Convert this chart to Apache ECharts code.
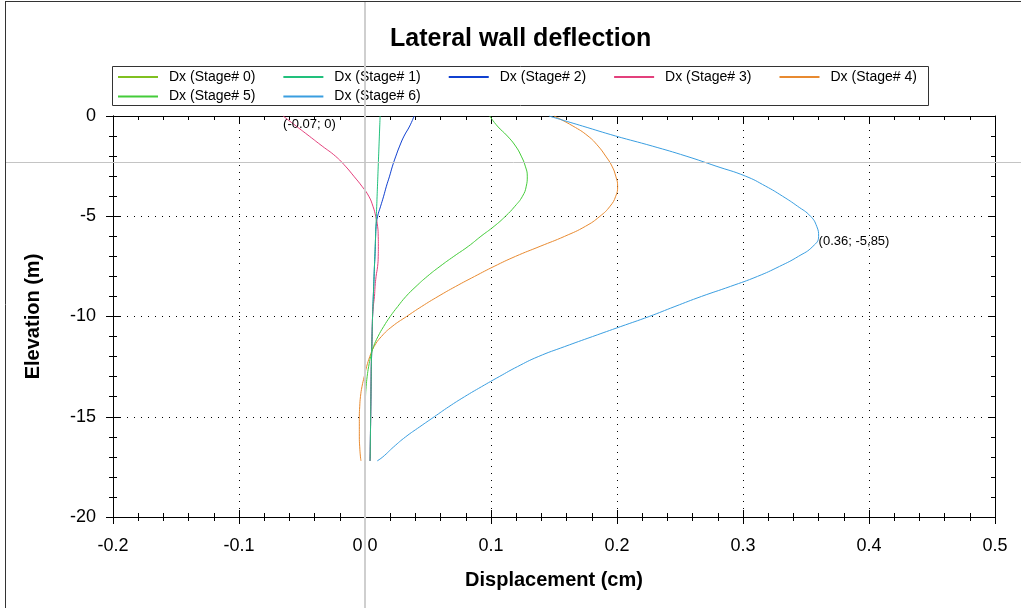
<!DOCTYPE html>
<html lang="en">
<head>
<meta charset="UTF-8">
<title>Lateral wall deflection</title>
<script src="https://cdn.jsdelivr.net/npm/echarts@6/dist/echarts.min.js"></script>
<style>
    html, body { margin: 0; padding: 0; background: #fff; }
    #chart { width: 1021px; height: 608px; }
</style>
</head>
<body>
<div id="chart"></div>
<script>
    // elevation (m) shared by every stage, 0.5 m apart
    var elevation = [0, -0.5, -1, -1.5, -2, -2.5, -3, -3.5, -4, -4.5, -5, -5.5, -6, -6.5, -7, -7.5, -8, -8.5,
        -9, -9.5, -10, -10.5, -11, -11.5, -12, -12.5, -13, -13.5, -14, -14.5, -15, -15.5, -16, -16.5, -17, -17.2];

    // horizontal displacement Dx (cm) per stage
    var dxStage0 = [0, 0, 0, 0, 0, 0, 0, 0, 0, 0, 0, 0, 0, 0, 0, 0, 0, 0,
        0, 0, 0, 0, 0, 0, 0, 0, 0, 0, 0, 0, 0, 0, 0, 0, 0, 0];
    var dxStage1 = [0.012, 0.0117, 0.0114, 0.0111, 0.0108, 0.0105, 0.0102, 0.0099, 0.0096, 0.0093, 0.009, 0.0087, 0.0084, 0.0081, 0.0078, 0.0075, 0.0072, 0.0069,
        0.0066, 0.0063, 0.006, 0.0058, 0.0056, 0.0054, 0.0052, 0.005, 0.0049, 0.0048, 0.0047, 0.0046, 0.0045, 0.0044, 0.0043, 0.0042, 0.0041, 0.004];
    var dxStage2 = [0.039, 0.0355, 0.031, 0.0275, 0.0245, 0.0218, 0.0195, 0.017, 0.0148, 0.0124, 0.010, 0.0088, 0.0084, 0.0082, 0.0079, 0.0075, 0.0072, 0.0069,
        0.0066, 0.0063, 0.006, 0.0058, 0.0056, 0.0054, 0.0052, 0.005, 0.0049, 0.0048, 0.0047, 0.0046, 0.0045, 0.0044, 0.0043, 0.0042, 0.0041, 0.004];
    var dxStage3 = [-0.065, -0.0547, -0.0443, -0.034, -0.0235, -0.0156, -0.0089, -0.0025, 0.003, 0.0063, 0.0085, 0.010, 0.0105, 0.0106, 0.0105, 0.010, 0.0088, 0.008,
        0.0075, 0.0066, 0.006, 0.0058, 0.0056, 0.0054, 0.0052, 0.005, 0.0049, 0.0048, 0.0047, 0.0046, 0.0045, 0.0044, 0.0043, 0.0042, 0.0041, 0.004];
    var dxStage4 = [0.150, 0.165, 0.177, 0.185, 0.191, 0.196, 0.199, 0.2005, 0.199, 0.1945, 0.1865, 0.175, 0.1585, 0.139, 0.1195, 0.1025, 0.087, 0.072,
        0.058, 0.045, 0.033, 0.0215, 0.013, 0.0072, 0.0038, 0.0013, -0.0006, -0.0024, -0.0036, -0.0042, -0.0045, -0.0045, -0.0045, -0.0042, -0.0036, -0.0032];
    var dxStage5 = [0.099, 0.105, 0.113, 0.1195, 0.124, 0.1272, 0.1288, 0.128, 0.125, 0.119, 0.1115, 0.1025, 0.092, 0.082, 0.0705, 0.0595, 0.0494, 0.0405,
        0.0325, 0.026, 0.020, 0.0148, 0.0103, 0.0068, 0.0045, 0.0029, 0.0017, 0.0009, 0.0004, 0.0002, 0, 0, 0, 0, 0, 0];
    var dxStage6 = [0.146, 0.1725, 0.199, 0.228, 0.2548, 0.2786, 0.302, 0.318, 0.3314, 0.3433, 0.3536, 0.3585, 0.360, 0.3555, 0.344, 0.329, 0.3115, 0.290,
        0.267, 0.246, 0.2255, 0.203, 0.1806, 0.1585, 0.1375, 0.121, 0.1065, 0.0925, 0.079, 0.0665, 0.055, 0.0435, 0.0323, 0.0228, 0.0142, 0.0097];

    var stageNames = ['Dx (Stage# 0)', 'Dx (Stage# 1)', 'Dx (Stage# 2)', 'Dx (Stage# 3)', 'Dx (Stage# 4)', 'Dx (Stage# 5)', 'Dx (Stage# 6)'];
    var stageColors = ['#80c020', '#22c07c', '#1040d0', '#e3407c', '#e88a30', '#44cc3a', '#3a9ee0'];

    // axis ranges
    var xMin = -0.2, xMax = 0.5, xStep = 0.1;
    var yMin = -20, yMax = 0, yStep = 5;

    // point labels (min of stage 3, max of stage 6)
    var minLabel = { name: '(-0.07; 0)', coord: [-0.065, 0] };
    var maxLabel = { name: '(0.36; -5,85)', coord: [0.36, -5.85] };

    // cursor crosshair position
    var cursorX = 0, cursorY = -2.3;

    var font = "'Liberation Sans', Arial, sans-serif";
    var chartDom = document.getElementById('chart');
    var myChart = echarts.init(chartDom);

    var stageData = [dxStage0, dxStage1, dxStage2, dxStage3, dxStage4, dxStage5, dxStage6];
    var series = stageData.map(function (dx, i) {
        return {
            name: stageNames[i],
            type: 'line',
            data: dx.map(function (v, k) { return [v, elevation[k]]; }),
            symbol: 'none',
            smooth: 0.5,
            z: i === 1 ? 3 : 2,
            lineStyle: { width: 1, color: stageColors[i] },
            itemStyle: { color: stageColors[i] }
        };
    });

    function pointLabel(item) {
        return {
            symbol: 'circle',
            symbolSize: 0,
            label: {
                show: true, position: [0, 2], formatter: '{b}',
                color: '#000', fontSize: 13, fontFamily: font
            },
            data: [item]
        };
    }
    series[3].markPoint = pointLabel(minLabel);
    series[6].markPoint = pointLabel(maxLabel);

    var tickColor = '#000';
    function xAxisBase(pos, inside) {
        return {
            type: 'value', min: xMin, max: xMax, interval: xStep, position: pos,
            axisLine: { show: true, onZero: false, lineStyle: { color: tickColor, width: 1 } },
            axisTick: { show: true, inside: inside, length: 7, lineStyle: { color: tickColor } },
            minorTick: { show: true, splitNumber: 5, length: 4, lineStyle: { color: tickColor } },
            axisLabel: { show: false },
            splitLine: { show: false }
        };
    }
    function yAxisBase(pos, inside) {
        return {
            type: 'value', min: yMin, max: yMax, interval: yStep, position: pos,
            axisLine: { show: true, onZero: false, lineStyle: { color: tickColor, width: 1 } },
            axisTick: { show: true, inside: inside, length: 7, lineStyle: { color: tickColor } },
            minorTick: { show: true, splitNumber: 5, length: 4, lineStyle: { color: tickColor } },
            axisLabel: { show: false },
            splitLine: { show: false }
        };
    }

    var xMain = xAxisBase('bottom', false);
    xMain.axisLabel = {
        show: true, margin: 20, color: '#000', fontSize: 18, fontFamily: font,
        formatter: function (v) { return v.toFixed(1); }
    };
    xMain.splitLine = { show: true, lineStyle: { color: '#000', width: 1, type: [1, 6] } };
    xMain.name = 'Displacement (cm)';
    xMain.nameLocation = 'middle';
    xMain.nameGap = 53;
    xMain.nameTextStyle = { color: '#000', fontSize: 20, fontWeight: 'bold', fontFamily: font };

    var yMain = yAxisBase('left', false);
    yMain.axisLabel = { show: true, margin: 17, color: '#000', fontSize: 18, fontFamily: font };
    yMain.splitLine = { show: true, lineStyle: { color: '#000', width: 1, type: [1, 6] } };
    yMain.name = 'Elevation (m)';
    yMain.nameLocation = 'middle';
    yMain.nameGap = 70;
    yMain.nameTextStyle = { color: '#000', fontSize: 20, fontWeight: 'bold', fontFamily: font };

    var legendBase = {
        left: 117, padding: 0, itemWidth: 40, itemHeight: 16, itemGap: 27,
        selectedMode: false,
        itemStyle: { opacity: 0 },
        textStyle: { color: '#000', fontSize: 14, fontFamily: font, padding: [0, 0, 0, 6] }
    };

    var option = {
        animation: false,
        backgroundColor: '#fff',
        title: {
            text: 'Lateral wall deflection',
            left: 385, top: 22,
            textStyle: { color: '#000', fontSize: 25, fontWeight: 'bold', fontFamily: font }
        },
        legend: [
            Object.assign({}, legendBase, { top: 70, data: stageNames.slice(0, 5) }),
            Object.assign({}, legendBase, { top: 89.5, data: stageNames.slice(5) })
        ],
        grid: { left: 113, right: 26, top: 116, bottom: 91, containLabel: false },
        xAxis: [xMain, xAxisBase('bottom', true), xAxisBase('top', true)],
        yAxis: [yMain, yAxisBase('left', true), yAxisBase('right', true)],
        series: series
    };
    myChart.setOption(option);

    // cursor crosshair, legend frame and outer border
    var c = myChart.convertToPixel({ seriesIndex: 0 }, [cursorX, cursorY]);
    var cx = c[0], cy = Math.round(c[1]) + 0.5;
    myChart.setOption({
        graphic: [
            { type: 'rect', silent: true, z: 1, shape: { x: 112.5, y: 66.5, width: 816, height: 39 },
              style: { fill: 'none', stroke: '#333', lineWidth: 1 } },
            { type: 'line', silent: true, z: 100, shape: { x1: 5.5, y1: 1, x2: 5.5, y2: 608 },
              style: { stroke: '#333', lineWidth: 1 } },
            { type: 'line', silent: true, z: 100, shape: { x1: 5, y1: 1.5, x2: 1021, y2: 1.5 },
              style: { stroke: '#333', lineWidth: 1 } },
            { type: 'line', silent: true, z: 100, shape: { x1: cx, y1: 2, x2: cx, y2: 608 },
              style: { stroke: '#cfcfcf', lineWidth: 2 } },
            { type: 'line', silent: true, z: 100, shape: { x1: 6, y1: cy, x2: 1021, y2: cy },
              style: { stroke: '#c4c4c4', lineWidth: 1 } }
        ]
    });
</script>
</body>
</html>
